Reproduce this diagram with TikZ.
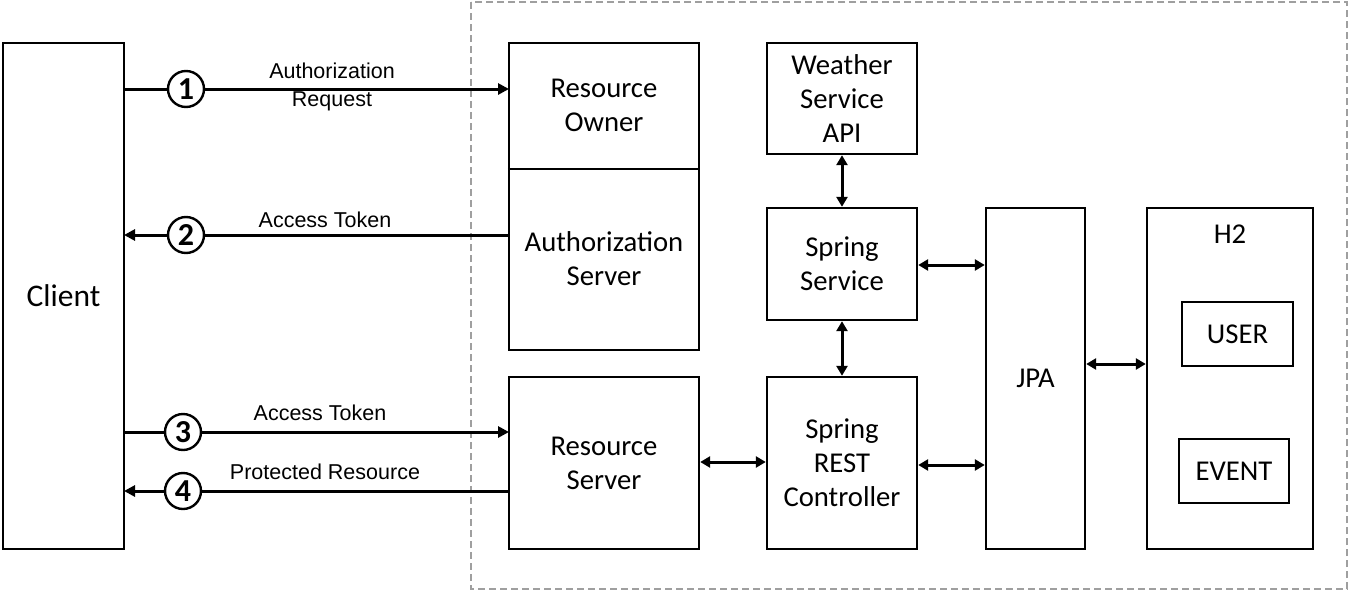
\documentclass[tikz,border=0pt]{standalone}
\usepackage{fontspec}
\setmainfont{Carlito}
\newfontfamily\arialf{Liberation Sans}
\usetikzlibrary{arrows.meta}
\tikzset{
  box/.style={draw, line width=2.4pt, inner sep=0pt, align=center, font=\fontsize{28.7}{34}\selectfont},
  lbl/.style={font=\arialf\fontsize{21.5}{28}\selectfont, align=center, inner sep=0pt},
  num/.style={draw, circle, line width=2.4pt, minimum size=36pt, inner sep=0pt, fill=white, font=\bfseries\fontsize{32}{32}\selectfont},
  con/.style={line width=3pt, -{Triangle[length=11pt,width=11pt]}},
  bicon/.style={line width=3pt, {Triangle[length=10pt,width=11pt]}-{Triangle[length=10pt,width=11pt]}}
}
\begin{document}
\begin{tikzpicture}[x=1pt,y=-1pt]
\useasboundingbox (0,0) rectangle (1350,592);
% dashed system boundary
\draw[gray!75, line width=1.8pt, dash pattern=on 7pt off 4pt] (471,2) rectangle (1347,589);
% nodes
\node[box, minimum width=121pt, minimum height=506pt, font=\fontsize{31.5}{34}\selectfont] (client) at (63.5,296) {Client};
\node[box, minimum width=190pt, minimum height=307pt] (auth) at (604,196.5) {};
\node[box, minimum width=190pt, minimum height=125pt, draw=none] (owner) at (604,105.5) {Resource\\Owner};
\node[box, minimum width=190pt, minimum height=182pt, draw=none] (authsrv) at (604,259) {Authorization\\Server};
\draw[line width=2.4pt] (owner.south west) -- (owner.south east);
\node[box, minimum width=190pt, minimum height=172pt] (rs) at (604,463) {Resource\\Server};
\node[box, minimum width=150pt, minimum height=111pt] (weather) at (842,98.5) {Weather\\Service\\API};
\node[box, minimum width=150pt, minimum height=112pt] (svc) at (842,264) {Spring\\Service};
\node[box, minimum width=150pt, minimum height=172pt] (rest) at (842,463) {Spring\\REST\\Controller};
\node[box, minimum width=99pt, minimum height=341pt] (jpa) at (1035.5,378.5) {JPA};
\node[box, minimum width=166pt, minimum height=341pt] (h2) at (1230,378.5) {};
\node[font=\fontsize{28.7}{34}\selectfont, inner sep=0pt] (h2lbl) at (1230,234) {H2};
\node[box, minimum width=111pt, minimum height=64pt] (user) at (1237.5,334) {USER};
\node[box, minimum width=110pt, minimum height=64pt] (event) at (1234,471) {EVENT};
% flow arrows
\coordinate (c1) at (124,89);
\coordinate (a1) at (509,89);
\draw[con] (c1) -- (a1);
\node[num] (n1) at (186,89) {1};
\node[lbl] (l1) at (332,87) {Authorization\\Request};
\coordinate (c2) at (124,235);
\coordinate (a2) at (509,235);
\draw[con] (a2) -- (c2);
\node[num] (n2) at (186,235) {2};
\node[lbl] (l2) at (325,220) {Access Token};
\coordinate (c3) at (124,432);
\coordinate (a3) at (509,432);
\draw[con] (c3) -- (a3);
\node[num] (n3) at (183,432) {3};
\node[lbl] (l3) at (320,413) {Access Token};
\coordinate (c4) at (124,491);
\coordinate (a4) at (509,491);
\draw[con] (a4) -- (c4);
\node[num] (n4) at (183,491) {4};
\node[lbl] (l4) at (325,472) {Protected Resource};
% bidirectional connectors
\draw[bicon] (weather.south) -- (svc.north);
\draw[bicon] (svc.south) -- (rest.north);
\draw[bicon] (rs.east |- 0,462) -- (rest.west |- 0,462);
\draw[bicon] (svc.east |- 0,265) -- (jpa.west |- 0,265);
\draw[bicon] (rest.east |- 0,465) -- (jpa.west |- 0,465);
\draw[bicon] (jpa.east |- 0,364) -- (h2.west |- 0,364);
\end{tikzpicture}
\end{document}
